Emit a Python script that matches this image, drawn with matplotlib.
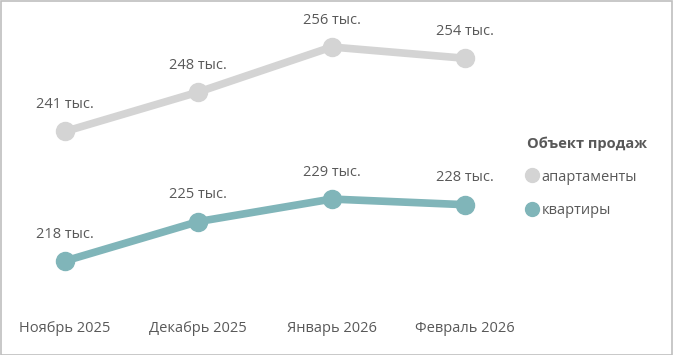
import matplotlib.pyplot as plt
from matplotlib.patches import Rectangle

months = ['Ноябрь 2025', 'Декабрь 2025', 'Январь 2026', 'Февраль 2026']
apartments = [241, 248, 256, 254]
flats = [218, 225, 229, 228]

c_apt = '#d4d4d4'
c_flat = '#80b5b9'
c_text = '#595959'

plt.rcParams['font.family'] = ['Open Sans', 'DejaVu Sans']

fig = plt.figure(figsize=(6.73, 3.55), dpi=100)
ax = fig.add_axes([65/673, 94/355, 400/673, 214/355])
x = list(range(len(months)))

ax.plot(x, apartments, color=c_apt, lw=5.5, marker='o', ms=13, clip_on=False,
        solid_capstyle='round', label='апартаменты')
ax.plot(x, flats, color=c_flat, lw=5.5, marker='o', ms=13, clip_on=False,
        solid_capstyle='round', label='квартиры')

for xi, v in zip(x, apartments):
    ax.annotate(f'{v} тыс.', (xi, v), xytext=(0, 14), textcoords='offset points',
                ha='center', va='bottom', fontsize=10.5, color=c_text)
for xi, v in zip(x, flats):
    ax.annotate(f'{v} тыс.', (xi, v), xytext=(0, 14), textcoords='offset points',
                ha='center', va='bottom', fontsize=10.5, color=c_text)

ax.set_xlim(0, 3)
ax.set_ylim(218, 256)
ax.set_xticks(x)
ax.set_xticklabels(months, fontsize=10.5, color=c_text)
ax.tick_params(axis='x', length=0, pad=43)
ax.set_yticks([])
for s in ax.spines.values():
    s.set_visible(False)
ax.patch.set_visible(False)

leg = ax.legend(title='Объект продаж', loc='upper left', bbox_to_anchor=(514/673, 232/355),
                bbox_transform=fig.transFigure, frameon=False, fontsize=10.5,
                handlelength=0.6, handletextpad=0.4, labelspacing=1.3, alignment='left')
leg.get_title().set_fontweight('bold')
leg.get_title().set_color(c_text)
leg.get_title().set_fontsize(10.5)
for t in leg.get_texts():
    t.set_color(c_text)
for h in leg.legend_handles:
    h.set_linestyle('none')
    h.set_markersize(10)

fig.patches.append(Rectangle((0.5/673, 0.5/355), 1 - 1.5/673, 1 - 1.5/355,
                             transform=fig.transFigure, fill=False, ec='#bfbfbf', lw=1.2))

fig.savefig('out.png', dpi=100)
